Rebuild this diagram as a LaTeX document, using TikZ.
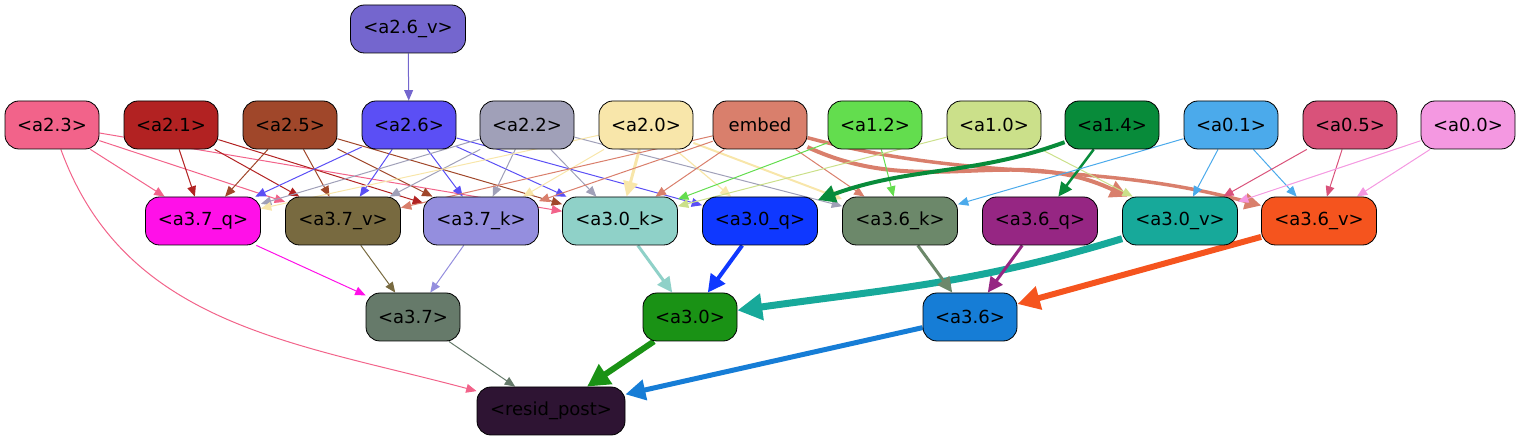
\documentclass[tikz,border=0pt]{standalone}
\usepackage{fontspec}
\setmainfont{DejaVu Sans}
\usetikzlibrary{arrows.meta,backgrounds}

\definecolor{ca26v}{HTML}{7466CE}
\definecolor{ca23}{HTML}{F2638A}
\definecolor{ca21}{HTML}{B22222}
\definecolor{ca25}{HTML}{A0472A}
\definecolor{ca26}{HTML}{5B4FF5}
\definecolor{ca22}{HTML}{A0A0B8}
\definecolor{ca20}{HTML}{F8E6AA}
\definecolor{cemb}{HTML}{D97F6C}
\definecolor{ca12}{HTML}{63DD4E}
\definecolor{ca10}{HTML}{CBE08A}
\definecolor{ca14}{HTML}{088B3A}
\definecolor{ca01}{HTML}{4BAAEB}
\definecolor{ca05}{HTML}{D9527A}
\definecolor{ca00}{HTML}{F498E1}
\definecolor{ca37q}{HTML}{FF10E8}
\definecolor{ca37v}{HTML}{786A40}
\definecolor{ca37k}{HTML}{948EDE}
\definecolor{ca30k}{HTML}{8FD1C8}
\definecolor{ca30q}{HTML}{0F38FF}
\definecolor{ca36k}{HTML}{6C886A}
\definecolor{ca36q}{HTML}{962683}
\definecolor{ca30v}{HTML}{17A99A}
\definecolor{ca36v}{HTML}{F5541E}
\definecolor{ca37}{HTML}{667A6A}
\definecolor{ca30}{HTML}{1A9215}
\definecolor{ca36}{HTML}{167DD6}
\definecolor{cres}{HTML}{2E1433}

\begin{document}
\begin{tikzpicture}
  [x=1pt,y=1pt,
   every node/.style={draw=black,line width=0.8pt,rounded corners=14pt,minimum height=48pt,
     minimum width=94pt,inner sep=0pt,font=\fontsize{18pt}{20pt}\selectfont},
   wide/.style={minimum width=115pt},
   link/.style={-{Triangle[length=8pt 2.4,width=6pt 2.8]},line width=1pt}]
  \useasboundingbox (0,0) rectangle (1521,-443);

  \node[wide,fill=ca26v] (a26v) at (408,-29) {<a2.6\_v>};

  \node[fill=ca23] (a23) at (52,-125) {<a2.3>};
  \node[fill=ca21] (a21) at (171,-125) {<a2.1>};
  \node[fill=ca25] (a25) at (290,-125) {<a2.5>};
  \node[fill=ca26] (a26) at (409,-125) {<a2.6>};
  \node[fill=ca22] (a22) at (527,-125) {<a2.2>};
  \node[fill=ca20] (a20) at (646,-125) {<a2.0>};
  \node[fill=cemb] (emb) at (760,-125) {embed};
  \node[fill=ca12] (a12) at (875,-125) {<a1.2>};
  \node[fill=ca10] (a10) at (994,-125) {<a1.0>};
  \node[fill=ca14] (a14) at (1112,-125) {<a1.4>};
  \node[fill=ca01] (a01) at (1231,-125) {<a0.1>};
  \node[fill=ca05] (a05) at (1350,-125) {<a0.5>};
  \node[fill=ca00] (a00) at (1468,-125) {<a0.0>};

  \node[wide,fill=ca37q] (a37q) at (203,-221) {<a3.7\_q>};
  \node[wide,fill=ca37v] (a37v) at (343,-221) {<a3.7\_v>};
  \node[wide,fill=ca37k] (a37k) at (481,-221) {<a3.7\_k>};
  \node[wide,fill=ca30k] (a30k) at (620,-221) {<a3.0\_k>};
  \node[wide,fill=ca30q] (a30q) at (760,-221) {<a3.0\_q>};
  \node[wide,fill=ca36k] (a36k) at (900,-221) {<a3.6\_k>};
  \node[wide,fill=ca36q] (a36q) at (1040,-221) {<a3.6\_q>};
  \node[wide,fill=ca30v] (a30v) at (1180,-221) {<a3.0\_v>};
  \node[wide,fill=ca36v] (a36v) at (1319,-221) {<a3.6\_v>};

  \node[fill=ca37] (a37) at (413,-317) {<a3.7>};
  \node[fill=ca30] (a30) at (690,-317) {<a3.0>};
  \node[fill=ca36] (a36) at (970,-317) {<a3.6>};

  \node[minimum width=148pt,fill=cres] (res) at (551,-411) {<resid\_post>};

  \begin{pgfonlayer}{background}
  \draw[link,ca26v] (a26v) -- (a26);

  \draw[link,ca23] (a23) -- (a37q);
  \draw[link,ca23] (a23) -- (a37v);
  \draw[link,ca23] (a23) -- (a30k);
  \draw[link,ca23] (a23) to[out=-70,in=165] (res);
  \draw[link,ca21] (a21) -- (a37q);
  \draw[link,ca21] (a21) -- (a37v);
  \draw[link,ca21] (a21) -- (a37k);
  \draw[link,ca25] (a25) -- (a37q);
  \draw[link,ca25] (a25) -- (a37v);
  \draw[link,ca25] (a25) -- (a37k);
  \draw[link,ca25] (a25) -- (a30k);
  \draw[link,ca26] (a26) -- (a37q);
  \draw[link,ca26] (a26) -- (a37v);
  \draw[link,ca26] (a26) -- (a37k);
  \draw[link,ca26] (a26) -- (a30k);
  \draw[link,ca26] (a26) -- (a30q);
  \draw[link,ca22] (a22) -- (a37q);
  \draw[link,ca22] (a22) -- (a37v);
  \draw[link,ca22] (a22) -- (a37k);
  \draw[link,ca22] (a22) -- (a30k);
  \draw[link,ca22] (a22) -- (a36k);
  \draw[link,ca20] (a20) -- (a37q);
  \draw[link,ca20] (a20) -- (a37k);
  \draw[link,ca20,line width=3pt] (a20) -- (a30k);
  \draw[link,ca20,line width=1.2pt] (a20) -- (a30q);
  \draw[link,ca20,line width=2pt] (a20) -- (a36k);
  \draw[link,cemb] (emb) -- (a37v);
  \draw[link,cemb] (emb) -- (a37k);
  \draw[link,cemb] (emb) -- (a30k);
  \draw[link,cemb] (emb) -- (a36k);
  \draw[link,cemb,line width=4pt] (emb) to[out=-25,in=155] (a30v);
  \draw[link,cemb,line width=3.5pt] (emb) to[out=-15,in=165] (a36v);
  \draw[link,ca12] (a12) -- (a30k);
  \draw[link,ca12] (a12) -- (a36k);
  \draw[link,ca10] (a10) -- (a30k);
  \draw[link,ca10] (a10) -- (a30v);
  \draw[link,ca14,line width=4pt] (a14) to[out=200,in=20] (a30q);
  \draw[link,ca14,line width=2.5pt] (a14) -- (a36q);
  \draw[link,ca01] (a01) -- (a36k);
  \draw[link,ca01] (a01) -- (a30v);
  \draw[link,ca01] (a01) -- (a36v);
  \draw[link,ca05] (a05) -- (a30v);
  \draw[link,ca05] (a05) -- (a36v);
  \draw[link,ca00] (a00) -- (a30v);
  \draw[link,ca00] (a00) -- (a36v);

  \draw[link,ca37q] (a37q) -- (a37);
  \draw[link,ca37v] (a37v) -- (a37);
  \draw[link,ca37k] (a37k) -- (a37);
  \draw[link,ca30k,line width=3pt] (a30k) -- (a30);
  \draw[link,ca30q,line width=4pt] (a30q) -- (a30);
  \draw[link,ca30v,line width=7pt] (a30v) to[out=197,in=8] (a30);
  \draw[link,ca36k,line width=3pt] (a36k) -- (a36);
  \draw[link,ca36q,line width=3pt] (a36q) -- (a36);
  \draw[link,ca36v,line width=6pt] (a36v) -- (a36);

  \draw[link,ca37] (a37) -- (res);
  \draw[link,ca30,line width=6pt] (a30) -- (res);
  \draw[link,ca36,line width=5pt] (a36) -- (res);
  \end{pgfonlayer}

\end{tikzpicture}
\end{document}
